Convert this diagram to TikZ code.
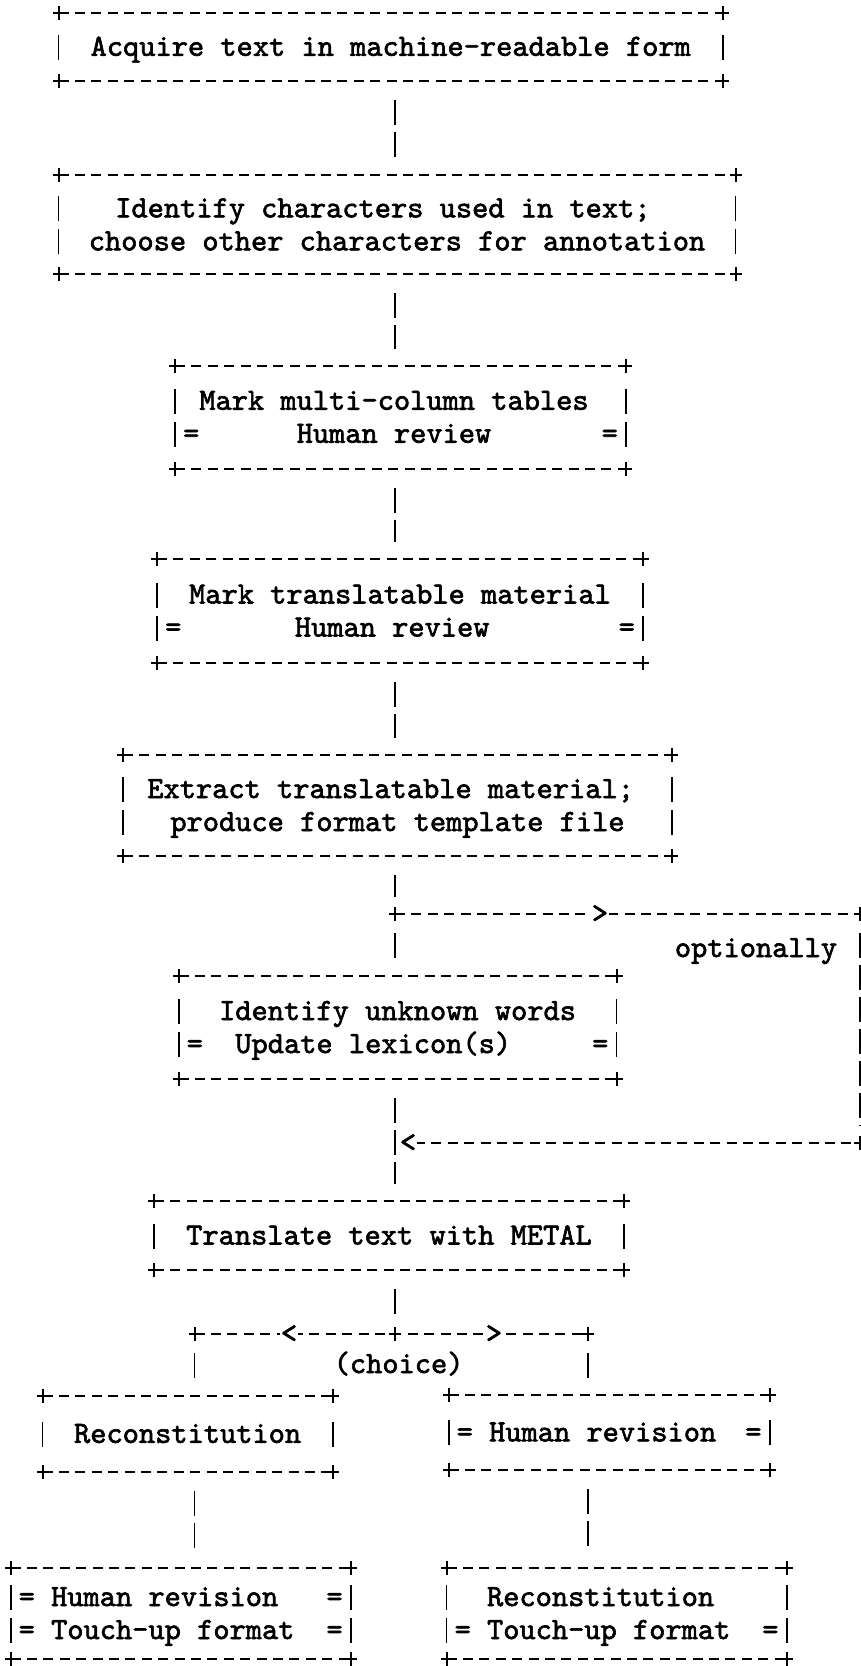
\documentclass[tikz,border=0pt]{standalone}
\usepackage{fontspec}
\newfontfamily\typewr{lmmono10-regular.otf}[AutoFakeBold=2]

\newlength\cw
\setlength\cw{16.22pt}
%% one typewriter blank, as wide as a letter
\newcommand\sk{\hskip\cw\relax}
\newcommand\vb{\makebox[0pt]{\rule[-4pt]{1.8pt}{25pt}}\rule[-7pt]{0pt}{32pt}}
\newcommand\row[1]{\leavevmode\hbox to\linewidth{\vb\hskip.5\cw #1\hskip.5\cw\vb}}

\tikzset{
  typed/.style={font=\typewr\bfseries\fontsize{30.9}{33}\selectfont},
  asciibox/.style={typed, text width=#1, inner xsep=0pt, inner ysep=0pt, outer sep=0pt},
  hdash/.style={line width=2.1pt, dash pattern=on 10pt off 6.4pt},
  vbar/.style={line width=1.9pt, dash pattern=on 25pt off 7pt, shorten <=19pt, shorten >=17pt},
  chev/.style={typed, fill=white, inner sep=1pt},
  pics/crs/.style={code={\draw[line width=2pt] (-6,0) -- (6,0) (0,-7) -- (0,7);}}
}

\begin{document}
\begin{tikzpicture}[x=1pt,y=-1pt]
  \useasboundingbox (0,0) rectangle (861,1666);

  %% junctions
  \coordinate (jopt) at (395,914);
  \coordinate (oright) at (860,914);
  \coordinate (jret) at (395,1143);
  \coordinate (oback) at (860,1143);
  \coordinate (jsplit) at (395,1334);
  \coordinate (jleft) at (194.5,1334);
  \coordinate (jright) at (588,1334);

  %% boxes
  \node[asciibox=664.5pt, minimum height=68pt] (acquire) at (390.75,46.8)
    {\row{\hfil Acquire\sk text\sk in\sk machine-readable\sk form\hfil}};
  \node[asciibox=677.1pt, minimum height=98.9pt] (charset) at (397.05,224.85)
    {\row{\sk\sk\sk Identify\sk characters\sk used\sk in\sk text;\hfil}\\
     \row{\hfil choose\sk other\sk characters\sk for\sk annotation\hfil}};
  \node[asciibox=451pt, minimum height=103pt] (tables) at (400.5,417.25)
    {\row{\sk Mark\sk multi-column\sk tables\hfil}\\
     \row{=\sk\sk\sk\sk\sk\sk Human\sk review\hfil=}};
  \node[asciibox=486pt, minimum height=104pt] (marktr) at (400,611)
    {\row{\hfil Mark\sk translatable\sk material\hfil}\\
     \row{=\sk\sk\sk\sk\sk\sk\sk Human\sk review\hfil=}};
  \node[asciibox=549pt, minimum height=101pt] (extract) at (397.5,805.5)
    {\row{\sk Extract\sk translatable\sk material;\hfil}\\
     \row{\hfil produce\sk format\sk template\sk file\hfil}};
  \node[asciibox=437.9pt, minimum height=103pt] (unknown) at (397.55,1027.5)
    {\row{\hfil Identify\sk unknown\sk words\hfil}\\
     \row{=\sk\sk Update\sk lexicon(s)\hfil=}};
  \node[asciibox=470pt, minimum height=69pt] (metal) at (389,1235.5)
    {\row{\hfil Translate\sk text\sk with\sk METAL\hfil}};
  \node[asciibox=290.2pt, minimum height=76.3pt] (reconL) at (187.6,1433.85)
    {\row{\hfil Reconstitution\hfil}};
  \node[asciibox=321pt, minimum height=75.3pt] (reviseR) at (609.1,1432.35)
    {\row{=\sk Human\sk revision\hfil=}};
  \node[asciibox=340.2pt, minimum height=91pt] (finalL) at (180.7,1613.5)
    {\row{=\sk Human\sk revision\hfil=}\\
     \row{=\sk Touch-up\sk format\hfil=}};
  \node[asciibox=340.1pt, minimum height=91pt] (finalR) at (616.55,1613.5)
    {\row{\sk\sk Reconstitution\hfil}\\
     \row{=\sk Touch-up\sk format\hfil=}};

  %% frames: dashed top and bottom, + at the corners
  \foreach \n in {acquire,charset,tables,marktr,extract,unknown,metal,reconL,reviseR,finalL,finalR}{
    \draw[hdash] (\n.north west) -- (\n.north east) (\n.south west) -- (\n.south east);
    \foreach \c in {north west,north east,south west,south east}
      \pic at (\n.\c) {crs};
  }

  %% main column
  \draw[vbar] (acquire.south -| jopt) -- (charset.north -| jopt);
  \draw[vbar] (charset.south -| jopt) -- (tables.north -| jopt);
  \draw[vbar] (tables.south -| jopt) -- (marktr.north -| jopt);
  \draw[vbar] (marktr.south -| jopt) -- (extract.north -| jopt);
  \draw[vbar] (extract.south -| jopt) -- (jopt);
  \draw[vbar] (jopt) -- (unknown.north -| jopt);
  \draw[vbar] (unknown.south -| jret) -- (metal.north -| jret);
  \draw[vbar] (metal.south -| jsplit) -- (jsplit);

  %% optional bypass
  \draw[hdash] (jopt) -- (oright);
  \draw[vbar] (oright) -- (oback);
  \draw[hdash, shorten <=20pt] (jret) -- (oback);
  \pic at (jopt) {crs};
  \pic at (oright) {crs};
  \pic at (oback) {crs};
  \node[chev] (gtopt) at (600,914) {>};
  \node[chev] (ltret) at (408,1143) {<};
  \node[typed, anchor=base] (optlabel) at (756,957) {optionally};

  %% choice
  \draw[hdash] (jleft) -- (jright);
  \pic at (jleft) {crs};
  \pic at (jsplit) {crs};
  \pic at (jright) {crs};
  \node[chev] (ltsplit) at (289,1334) {<};
  \node[chev] (gtsplit) at (494,1334) {>};
  \node[typed, anchor=base] (choicelabel) at (398.6,1373) {(choice)};
  \draw[vbar] (jleft) -- (reconL.north -| jleft);
  \draw[vbar] (jright) -- (reviseR.north -| jright);
  \draw[vbar] (reconL.south -| jleft) -- (finalL.north -| jleft);
  \draw[vbar] (reviseR.south -| jright) -- (finalR.north -| jright);
\end{tikzpicture}
\end{document}
